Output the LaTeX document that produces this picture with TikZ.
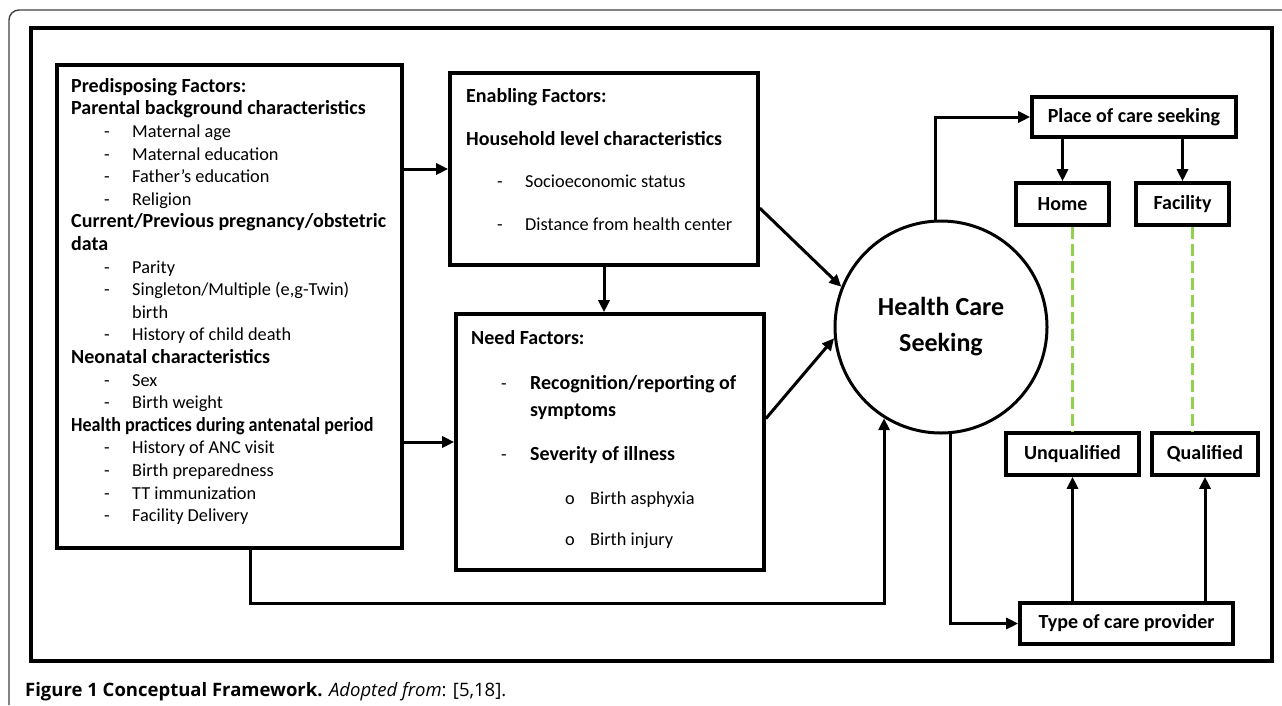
\documentclass[tikz,border=0pt]{standalone}
\usepackage{fontspec}
\usepackage{graphicx}
\setmainfont{Carlito}
\newfontfamily\capfont{Open Sans}
\usetikzlibrary{arrows.meta,positioning,calc}

% list items
\newcommand{\hd}[1]{{\fontsize{20}{22.6}\selectfont\bfseries #1}}
\newcommand{\dashitem}[1]{\hspace*{33pt}\makebox[28pt][l]{-}#1}
\newcommand{\contitem}[1]{\hspace*{61pt}#1}

\tikzset{
  factorbox/.style={draw, line width=3.6pt, inner sep=0pt},
  outbox/.style={draw, line width=3.6pt, inner sep=0pt, font=\fontsize{20}{22}\selectfont\bfseries},
  boxtext/.style={anchor=north west, inner sep=0pt, align=left},
  arr/.style={-{Triangle[length=12pt,width=11pt]}, line width=3pt},
  link/.style={line width=3.5pt, dash pattern=on 12pt off 5pt, color=linkgreen}
}
\definecolor{linkgreen}{RGB}{146,208,80}

\begin{document}
\begin{tikzpicture}[x=1pt,y=1pt,yscale=-1]
\useasboundingbox (0,0) rectangle (1282,705);

% page frame
\draw[line width=1.4pt, color=black!75, rounded corners=10pt] (9,705) -- (9,10) -- (1282,10);
\draw[line width=3.6pt] (31,28) rectangle (1272,661);

% factor boxes
\node[factorbox, minimum width=345pt, minimum height=483pt] (pre) at (229.5,306.5) {};
\node[factorbox, minimum width=308pt, minimum height=192pt] (enab) at (604,169) {};
\node[factorbox, minimum width=308pt, minimum height=256pt] (need) at (610,442) {};

\node[boxtext, font=\fontsize{18.3}{22.6}\selectfont] (pretxt) at (71,78) {%
\hd{Predisposing Factors:}\\
\hd{Parental background characteristics}\\
\dashitem{Maternal age}\\
\dashitem{Maternal education}\\
\dashitem{Father's education}\\
\dashitem{Religion}\\
\hd{Current/Previous pregnancy/obstetric}\\
\hd{data}\\
\dashitem{Parity}\\
\dashitem{Singleton/Multiple (e,g-Twin)}\\
\contitem{birth}\\
\dashitem{History of child death}\\
\hd{Neonatal characteristics}\\
\dashitem{Sex}\\
\dashitem{Birth weight}\\
\scalebox{0.905}[1]{\hd{Health practices during antenatal period}}\\
\dashitem{History of ANC visit}\\
\dashitem{Birth preparedness}\\
\dashitem{TT immunization}\\
\dashitem{Facility Delivery}};

\node[boxtext, font=\fontsize{18.3}{21.5}\selectfont] (enabtxt) at (466,88) {%
\hd{Enabling Factors:}\\[21.5pt]
\hd{Household level characteristics}\\[21pt]
\hspace*{31pt}\makebox[28pt][l]{-}Socioeconomic status\\[21pt]
\hspace*{31pt}\makebox[28pt][l]{-}Distance from health center};

\node[boxtext, font=\fontsize{18.3}{27}\selectfont] (needtxt) at (471,330) {%
\hd{Need Factors:}\\[18pt]
\hspace*{30pt}\makebox[29pt][l]{-}\hd{Recognition/reporting of}\\
\hspace*{59pt}\hd{symptoms}\\[17pt]
\hspace*{30pt}\makebox[29pt][l]{-}\hd{Severity of illness}\\[17pt]
\hspace*{94pt}\makebox[25pt][l]{o}Birth asphyxia\\[14pt]
\hspace*{94pt}\makebox[25pt][l]{o}Birth injury};

% outcome
\node[circle, draw, line width=3pt, minimum size=212pt, align=center,
      font=\fontsize{26}{36}\selectfont\bfseries] (hcs) at (941,327) {Health Care\\Seeking};

\node[outbox, minimum width=204pt, minimum height=40pt] (place) at (1134,117) {Place of care seeking};
\node[outbox, minimum width=93pt, minimum height=42pt] (home) at (1062.5,204) {Home};
\node[outbox, minimum width=93pt, minimum height=42pt] (fac) at (1182.5,204) {Facility};
\node[outbox, minimum width=133pt, minimum height=42pt] (unq) at (1072.5,454) {Unqualified};
\node[outbox, minimum width=106pt, minimum height=42pt] (qual) at (1205,454) {Qualified};
\node[outbox, minimum width=213pt, minimum height=41pt] (type) at (1126.5,623.5) {Type of care provider};

% connectors
\coordinate (loop) at (250,603);
\draw[arr] (pre.east |- enab.west) -- (enab.west);
\draw[arr] (pre.east |- need.west) -- (need.west);
\draw[arr] (enab.south) -- (enab.south |- need.north);
\draw[arr] ($(enab.south east)!0.3!(enab.north east)$) -- (hcs.158);
\draw[arr] ($(need.south east)!0.59!(need.north east)$) -- (hcs.186);
\draw[arr] (pre.south -| loop) -- (loop) -| (hcs.238);
\draw[arr] (hcs.93) |- (place.west);
\draw[arr] (hcs.-85) |- (type.west);
\draw[arr] (place.south -| home) -- (home.north);
\draw[arr] (place.south -| fac) -- (fac.north);
\draw[arr] (unq.south |- type.north) -- (unq.south);
\draw[arr] (qual.south |- type.north) -- (qual.south);
\draw[link] (unq.north |- home.south) -- (unq.north);
\draw[link] ([xshift=10pt]fac.south) -- ([xshift=10pt]fac.south |- qual.north);

% caption
\node[anchor=base west, inner sep=0pt, font=\capfont\fontsize{18.5}{20}\selectfont] (cap) at (25,696)
  {\textbf{Figure 1 Conceptual Framework.} \textit{Adopted from}: [5,18].};
\end{tikzpicture}
\end{document}
